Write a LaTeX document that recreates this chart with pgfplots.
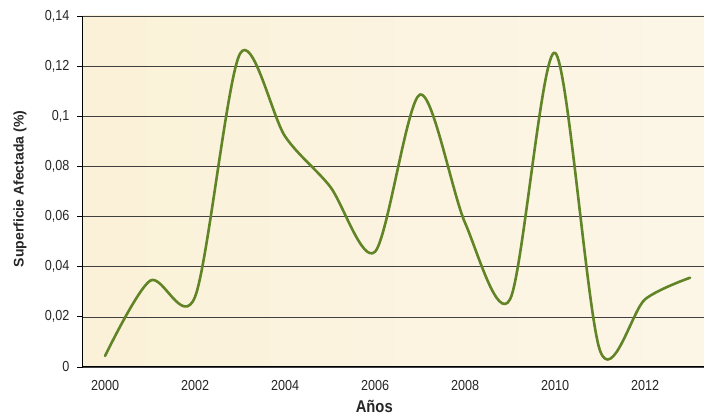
\documentclass[border=0pt]{standalone}
\usepackage{fontspec}
\setmainfont{Liberation Sans}[FakeStretch=0.87]
\newfontfamily\ylabfont{Liberation Sans}
\usepackage{pgfplots}
\pgfplotsset{compat=1.18}
\definecolor{bgL}{HTML}{FBF1D8}
\definecolor{bgR}{HTML}{FCF6E7}
\definecolor{curve}{RGB}{96,132,38}
\pgfplotstableread{
year val
2000 0.0044
2001 0.0344
2002 0.0280
2003 0.1250
2004 0.0920
2005 0.0720
2006 0.0460
2007 0.1087
2008 0.0575
2009 0.0270
2010 0.1253
2011 0.0065
2012 0.0270
2013 0.0356
}\datatable
\begin{document}
\begin{tikzpicture}[x=1pt,y=1pt]
\useasboundingbox (-83,-50) rectangle (621,367);
\begin{axis}[
  at={(0,0)}, anchor=south west,
  scale only axis, width=621pt, height=351pt,
  xmin=1999.51, xmax=2013.31, ymin=0, ymax=0.14,
  axis x line*=bottom, axis y line*=left,
  axis line style={black, line width=1pt},
  axis background/.style={left color=bgL, right color=bgR},
  xtick={2000,2002,2004,2006,2008,2010,2012},
  xticklabels={2000,2002,2004,2006,2008,2010,2012},
  ytick={0,0.02,0.04,0.06,0.08,0.1,0.12,0.14},
  yticklabels={0,{0,02},{0,04},{0,06},{0,08},{0,1},{0,12},{0,14}},
  tick align=outside, major tick length=6pt,
  xtick style={draw=none},
  ytick style={black, line width=0.8pt},
  ymajorgrids, grid style={black!75, line width=0.6pt},
  ticklabel style={font=\fontsize{14.5}{16}\selectfont, text=black!85},
  yticklabel style={xshift=-4pt},
  xticklabel style={yshift=-4pt},
  xlabel={Años},
  xlabel style={at={(axis description cs:0.469,0)}, anchor=base, yshift=-46pt,
    font=\bfseries\fontsize{17}{19}\selectfont, text=black!85},
  ylabel={Superficie Afectada (\%)},
  ylabel style={at={(axis description cs:-0.1014,0.507)}, anchor=center,
    font=\ylabfont\bfseries\fontsize{14}{16}\selectfont, text=black!85},
]
\addplot[curve, line width=2.6pt, smooth, tension=0.5, line join=round, line cap=round] table[x=year, y=val] {\datatable};
\end{axis}
\end{tikzpicture}
\end{document}
